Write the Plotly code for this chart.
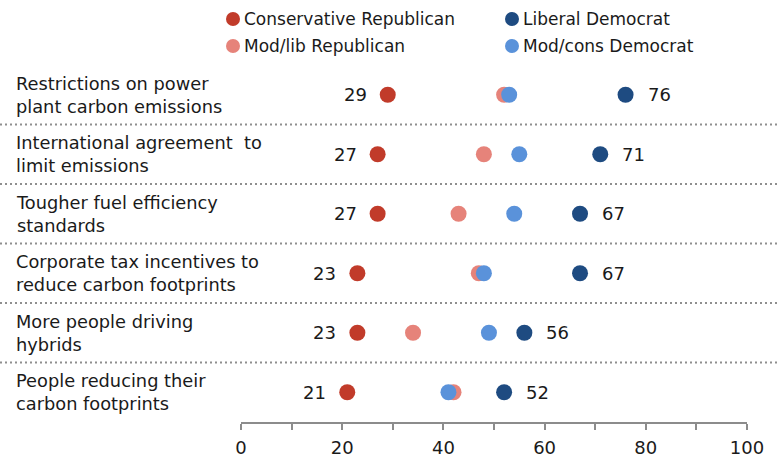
import plotly.graph_objects as go

categories = [
    "Restrictions on power<br>plant carbon emissions",
    "International agreement  to<br>limit emissions",
    "Tougher fuel efficiency<br>standards",
    "Corporate tax incentives to<br>reduce carbon footprints",
    "More people driving<br>hybrids",
    "People reducing their<br>carbon footprints",
]
cons_rep = [29, 27, 27, 23, 23, 21]
modlib_rep = [52, 48, 43, 47, 34, 42]
modcons_dem = [53, 55, 54, 48, 49, 41]
lib_dem = [76, 71, 67, 67, 56, 52]
series_names = ["Conservative Republican", "Liberal Democrat", "Mod/lib Republican", "Mod/cons Democrat"]
tick_vals = [0, 10, 20, 30, 40, 50, 60, 70, 80, 90, 100]
tick_text = ["0", "", "20", "", "40", "", "60", "", "80", "", "100"]

C_CR = "#C13B2A"
C_MR = "#E6837A"
C_LD = "#1E4B81"
C_MD = "#5A92DA"
FONT = "DejaVu Sans"
FS = 17
TXT = "#1a1a1a"

L, R, T, B = 241, 32, 65, 38
PW = 779 - L - R
PH = 460 - T - B

ypos = [-i for i in range(len(categories))]

fig = go.Figure()
for vals, col, name in [(cons_rep, C_CR, series_names[0]), (lib_dem, C_LD, series_names[1]),
                        (modlib_rep, C_MR, series_names[2]), (modcons_dem, C_MD, series_names[3])]:
    fig.add_trace(go.Scatter(x=vals, y=ypos, mode="markers", name=name,
                             marker=dict(size=16, color=col, line=dict(width=0)),
                             showlegend=False, cliponaxis=False, hoverinfo="skip"))

annotations = []
for i, cat in enumerate(categories):
    annotations.append(dict(x=(14 - L) / PW, xref="paper", y=ypos[i], yref="y", text=cat,
                            showarrow=False, xanchor="left", align="left",
                            font=dict(family=FONT, size=17.8, color=TXT)))
    annotations.append(dict(x=cons_rep[i], y=ypos[i], xref="x", yref="y", text=str(cons_rep[i]),
                            showarrow=False, xanchor="right", xshift=-19,
                            font=dict(family=FONT, size=18, color=TXT)))
    annotations.append(dict(x=lib_dem[i], y=ypos[i], xref="x", yref="y", text=str(lib_dem[i]),
                            showarrow=False, xanchor="left", xshift=20,
                            font=dict(family=FONT, size=18, color=TXT)))

shapes = []
for i in range(len(categories) - 1):
    y = ypos[i] - 0.5
    shapes.append(dict(type="line", xref="paper", yref="y", x0=-L / PW, x1=1 + R / PW,
                       y0=y, y1=y, line=dict(color="#8f8f8f", width=2, dash="2px,3px")))

# legend
leg = [(series_names[0], C_CR, 233, 19), (series_names[1], C_LD, 512, 19),
       (series_names[2], C_MR, 233, 46), (series_names[3], C_MD, 512, 46)]
for name, col, px, py in leg:
    xp = (px - L) / PW
    yp = 1 + (T - py) / PH
    shapes.append(dict(type="circle", xref="paper", yref="paper", xsizemode="pixel", ysizemode="pixel",
                       xanchor=xp, yanchor=yp, x0=-7, x1=7, y0=-7, y1=7,
                       fillcolor=col, line=dict(width=0)))
    annotations.append(dict(x=(px - L + 9) / PW, y=yp, xref="paper", yref="paper", text=name,
                            showarrow=False, xanchor="left", yanchor="middle",
                            font=dict(family=FONT, size=FS, color=TXT)))

fig.update_layout(
    width=779, height=460,
    margin=dict(l=L, r=R, t=T, b=B, autoexpand=False),
    paper_bgcolor="white", plot_bgcolor="white",
    showlegend=False, hovermode=False,
    annotations=annotations, shapes=shapes,
    xaxis=dict(range=[0, 100], tickvals=tick_vals, ticktext=tick_text, showgrid=False,
               zeroline=False, showline=True, linecolor="#8c8c8c", linewidth=2,
               ticks="outside", ticklen=6, tickwidth=2, tickcolor="#8c8c8c",
               ticklabelstandoff=2, automargin=False,
               tickfont=dict(family=FONT, size=18, color=TXT)),
    yaxis=dict(range=[-5.5, 0.5], showgrid=False, zeroline=False, showticklabels=False,
               showline=False, automargin=False),
)
fig.write_html("out.html", post_script="document.body.style.margin='0';",
               config={"displayModeBar": False})
